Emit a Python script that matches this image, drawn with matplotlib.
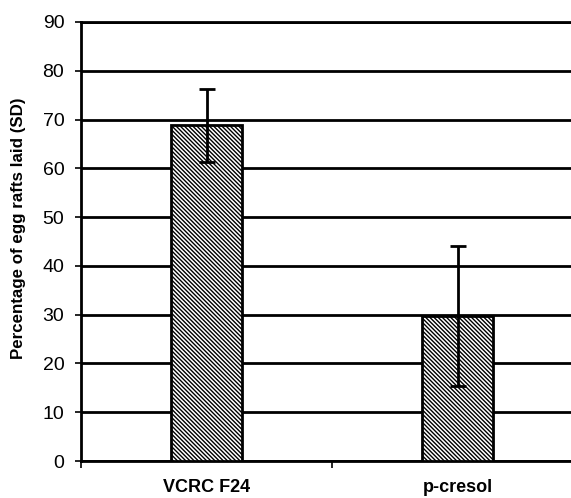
import numpy as np
import matplotlib
matplotlib.use("Agg")
import matplotlib.pyplot as plt

groups = ["VCRC F24", "p-cresol"]
percent_laid = [68.8, 29.7]
sd = [7.5, 14.4]

plt.rcParams['font.family'] = ['Liberation Sans', 'DejaVu Sans']
plt.rcParams['hatch.linewidth'] = 1.0
plt.rcParams['hatch.color'] = 'black'

fig = plt.figure(figsize=(5.71, 4.98), dpi=100)
ax = fig.add_axes([81 / 571, 37 / 498, 502 / 571, 439 / 498])

x = np.arange(len(groups))
ax.bar(x, percent_laid, width=0.285, color='white', edgecolor='black',
       linewidth=2, hatch='\\' * 8, zorder=3)
ax.errorbar(x, percent_laid, yerr=sd, fmt='none', ecolor='black',
            elinewidth=2, capsize=5.7, capthick=2, zorder=4)

ax.set_xlim(-0.5, 1.5)
ax.set_ylim(0, 90)
ax.set_yticks(range(0, 91, 10))
ax.yaxis.grid(True, color='black', linewidth=2, zorder=1)
ax.set_axisbelow(True)

ax.set_xticks([-0.5, 0.5, 1.5])
ax.set_xticklabels([])
ax.set_xticks(x, minor=True)
ax.set_xticklabels(groups, minor=True, fontweight='bold', fontsize=13)
ax.tick_params(axis='x', which='minor', length=0, pad=13)
ax.tick_params(axis='x', which='major', length=5, width=1.2, direction='out')
ax.tick_params(axis='y', length=4, width=1.2, direction='out', pad=8,
               labelsize=14)

for side in ['right']:
    ax.spines[side].set_visible(False)
for side in ['left', 'bottom', 'top']:
    ax.spines[side].set_linewidth(2)

ax.set_ylabel('Percentage of egg rafts laid (SD)', fontweight='bold',
              fontsize=12.2)
ax.yaxis.set_label_coords(-0.11, 0.53)

fig.savefig('out.png', dpi=100)
